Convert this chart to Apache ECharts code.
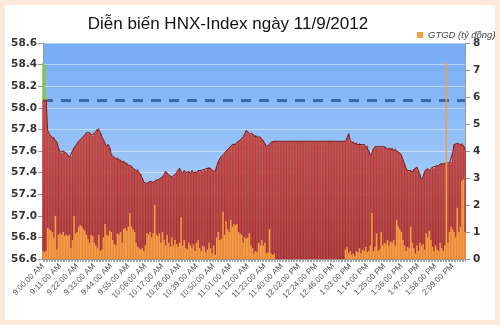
<!DOCTYPE html>
<html><head><meta charset="utf-8">
<script src="https://cdn.jsdelivr.net/npm/echarts@6/dist/echarts.min.js"></script>
<style>html,body{margin:0;padding:0;background:#fff}#c{width:500px;height:325px}</style>
</head><body><div id="c"></div>
<script>
var titleText = 'Diễn biến HNX-Index ngày 11/9/2012';
var volumeName = 'GTGD (tỷ đồng)';
var refLevel = 58.07;
var tickLabels = ['9:00:00 AM','9:11:00 AM','9:22:00 AM','9:33:00 AM','9:44:00 AM','9:55:00 AM','10:06:00 AM','10:17:00 AM','10:28:00 AM','10:39:00 AM','10:50:00 AM','11:01:00 AM','11:12:00 AM','11:23:00 AM','11:40:00 AM','12:02:00 PM','12:24:00 PM','12:46:00 PM','1:03:00 PM','1:14:00 PM','1:25:00 PM','1:36:00 PM','1:47:00 PM','1:58:00 PM','2:09:00 PM'];
var indexValues = [
58.42,58.40,58.10,57.79,57.76,57.74,57.72,57.73,57.70,57.68,57.63,
57.59,57.58,57.60,57.59,57.58,57.56,57.54,57.55,57.60,57.63,57.65,
57.67,57.69,57.70,57.72,57.73,57.75,57.77,57.76,57.77,57.75,57.74,
57.76,57.78,57.80,57.81,57.77,57.73,57.70,57.67,57.64,57.66,57.63,
57.57,57.55,57.54,57.53,57.54,57.52,57.52,57.50,57.51,57.49,57.49,
57.47,57.46,57.46,57.44,57.43,57.42,57.43,57.40,57.39,57.35,57.31,
57.30,57.30,57.31,57.32,57.31,57.31,57.32,57.33,57.33,57.34,57.35,
57.36,57.38,57.41,57.40,57.38,57.37,57.36,57.36,57.38,57.40,57.42,
57.44,57.41,57.39,57.42,57.40,57.40,57.41,57.39,57.42,57.40,57.41,
57.40,57.42,57.41,57.42,57.41,57.43,57.42,57.44,57.45,57.44,57.42,
57.41,57.41,57.46,57.50,57.53,57.55,57.56,57.58,57.60,57.61,57.63,
57.64,57.66,57.67,57.66,57.68,57.69,57.70,57.71,57.73,57.76,57.79,
57.78,57.76,57.75,57.76,57.74,57.75,57.73,57.72,57.73,57.71,57.70,
57.67,57.64,57.65,57.66,57.68,57.69,57.69,57.69,57.69,57.69,57.69,
57.69,57.69,57.69,57.69,57.69,57.69,57.69,57.69,57.69,57.69,57.69,
57.69,57.69,57.69,57.69,57.69,57.69,57.69,57.69,57.69,57.69,57.69,
57.69,57.69,57.69,57.69,57.69,57.69,57.69,57.69,57.69,57.69,57.69,
57.69,57.69,57.69,57.69,57.69,57.69,57.69,57.69,57.69,57.72,57.76,
57.70,57.68,57.69,57.67,57.68,57.66,57.67,57.66,57.65,57.66,57.64,
57.65,57.60,57.56,57.58,57.62,57.64,57.63,57.64,57.63,57.64,57.63,
57.64,57.63,57.62,57.63,57.62,57.63,57.61,57.62,57.60,57.59,57.58,
57.56,57.52,57.48,57.44,57.42,57.41,57.42,57.40,57.43,57.44,57.45,
57.42,57.38,57.33,57.36,57.41,57.43,57.44,57.42,57.43,57.45,57.44,
57.46,57.47,57.46,57.48,57.49,57.48,57.49,57.49,57.48,57.49,57.50,
57.58,57.66,57.66,57.67,57.67,57.66,57.67,57.65,57.61
];
var volumeValues = [
0.3,0.25,0.3,1.15,1.1,1.05,1.0,0.8,1.6,0.35,0.9,
0.95,0.9,1.0,0.85,0.9,0.85,0.9,0.4,0.7,1.6,0.95,
1.0,1.2,1.25,1.2,1.1,1.05,0.9,0.75,0.6,0.9,0.85,
0.6,0.5,0.4,0.9,0.3,0.35,0.8,1.3,0.9,0.85,1.05,
1.0,0.7,0.55,0.5,0.95,0.9,1.0,0.6,1.1,1.15,1.05,
1.2,1.7,1.2,1.1,1.0,0.6,0.45,0.4,0.35,0.4,0.3,
0.5,0.95,0.9,1.0,0.8,0.95,2.0,0.9,0.85,0.95,0.6,
1.0,0.7,0.5,0.9,0.6,0.45,0.8,0.5,0.7,0.55,0.45,
0.6,1.55,0.5,0.7,0.4,0.35,0.6,0.5,0.4,0.55,0.3,
0.6,0.7,0.4,0.3,0.5,0.45,0.25,0.35,0.6,0.4,0.2,
0.5,0.15,0.8,1.0,0.7,0.75,1.75,0.9,1.4,1.1,1.0,
1.45,1.2,1.3,1.25,1.3,1.0,0.95,0.9,0.6,0.8,0.75,
0.8,0.95,0.5,0.4,0.2,0.3,0.25,0.6,0.5,0.7,0.5,
0.6,0.2,0.25,1.1,0.2,0.15,0.2,0,0,0,0,
0,0,0,0,0,0,0,0,0,0,0,
0,0,0,0,0,0,0,0,0,0,0,
0,0,0,0,0,0,0,0,0,0,0,
0,0,0,0,0,0,0,0,0.35,0.45,0.2,
0.3,0.15,0.2,0.1,0.3,0.25,0.4,0.2,0.35,0.3,0.45,
0.25,0.3,0.5,1.7,0.3,0.45,0.95,0.3,0.35,1.0,0.5,
0.6,0.55,0.7,0.5,0.65,0.6,0.7,0.5,1.45,1.2,1.1,
1.0,0.7,0.5,0.3,0.45,0.4,1.2,0.6,0.4,0.2,0.5,
0.3,0.6,0.5,0.55,0.35,0.95,0.8,1.05,0.7,0.45,0.3,
0.5,0.35,0.3,0.6,0.4,0.3,0.5,7.3,0.6,1.0,1.2,
1.1,1.0,0.8,1.9,1.0,1.2,2.9,2.95,1.0
];

var n = indexValues.length;
var categories = [];
for (var i = 0; i < n; i++) categories.push('t' + i);
var redData = indexValues.map(function (v) { return Math.min(v, refLevel); });
var greenData = indexValues.map(function (v) { return v > refLevel ? +(v - refLevel).toFixed(2) : 0; });

var redFill = new echarts.graphic.LinearGradient(0, 43, 0, 259, [
  {offset: 0, color: '#d5483f'}, {offset: 0.45, color: '#c43b33'}, {offset: 1, color: '#a82420'}
], true);

var chart = echarts.init(document.getElementById('c'), null, {renderer: 'canvas'});
chart.setOption({
  animation: false,
  backgroundColor: '#ffffff',
  title: {
    text: titleText, left: 223, top: 11, textAlign: 'center',
    textStyle: {fontFamily: 'Liberation Sans', fontSize: 17, fontWeight: 'normal', color: '#111'}
  },
  legend: {
    data: [volumeName], left: 412, top: 25, itemWidth: 6, itemHeight: 6, itemGap: 3,
    icon: 'rect',
    textStyle: {fontFamily: 'Liberation Sans', fontStyle: 'italic', fontSize: 9.5, color: '#444'}
  },
  graphic: [{
    type: 'rect', z: -10, zlevel: 0, silent: true,
    shape: {x: 43, y: 43, width: 422, height: 216},
    style: {fill: new echarts.graphic.LinearGradient(0, 0, 0, 1, [
      {offset: 0, color: '#76abf6'}, {offset: 1, color: '#b9dafa'}
    ])}
  }, {
    type: 'rect', z: 100, zlevel: 4, silent: true,
    shape: {x: 2.5, y: 2.5, width: 495, height: 320},
    style: {fill: 'none', stroke: '#fce9db', lineWidth: 5}
  }],
  grid: {
    left: 43, right: 35, top: 43, bottom: 66
  },
  xAxis: {
    type: 'category', data: categories, boundaryGap: false,
    axisLine: {lineStyle: {color: '#999'}},
    axisTick: {show: true, interval: 0, length: 3, lineStyle: {color: '#aaa'}},
    axisLabel: {
      interval: 10, rotate: 45, fontSize: 8, color: '#555', margin: 6,
      fontFamily: 'Liberation Sans',
      formatter: function (v, idx) { return tickLabels[idx / 11] || ''; }
    },
    splitLine: {show: false}
  },
  yAxis: [{
    type: 'value', min: 56.6, max: 58.6, interval: 0.2,
    axisLine: {show: true, lineStyle: {color: '#999'}},
    axisTick: {show: true, length: 5, lineStyle: {color: '#999'}},
    axisLabel: {
      formatter: function (v) { return v.toFixed(1); },
      fontFamily: 'DejaVu Sans', fontWeight: 'bold', fontSize: 10.5, color: '#333', margin: 6
    },
    splitLine: {show: true, lineStyle: {color: 'rgba(255,255,255,0.45)', width: 1}}
  }, {
    type: 'value', min: 0, max: 8, interval: 1,
    axisLine: {show: true, lineStyle: {color: '#999'}},
    axisTick: {show: true, length: 5, lineStyle: {color: '#999'}},
    axisLabel: {fontFamily: 'DejaVu Sans', fontWeight: 'bold', fontSize: 10.5, color: '#333', margin: 8},
    splitLine: {show: false}
  }],
  series: [{
    name: 'HNX-Index', type: 'bar', data: redData, yAxisIndex: 0, zlevel: 1,
    stack: 'idx', barCategoryGap: 0, barGap: '-100%',
    itemStyle: {color: redFill, borderColor: redFill, borderWidth: 0.6}
  }, {
    name: 'above', type: 'bar', data: greenData, yAxisIndex: 0, zlevel: 1,
    stack: 'idx', barCategoryGap: 0, barGap: '-100%',
    itemStyle: {color: '#8cc63e'}
  }, {
    name: 'outline', type: 'line', data: redData, yAxisIndex: 0, zlevel: 1,
    symbol: 'none', lineStyle: {color: '#7a1a18', width: 1}
  }, {
    name: volumeName, type: 'bar', data: volumeValues, yAxisIndex: 1,
    barCategoryGap: 0, barGap: '-100%', zlevel: 2,
    itemStyle: {color: '#f59d40'}
  }, {
    name: 'ref', type: 'line', data: [], yAxisIndex: 0, zlevel: 3,
    markLine: {
      silent: true, symbol: 'none', label: {show: false},
      lineStyle: {color: '#3b6ba6', width: 3, type: [10, 8]},
      data: [{yAxis: refLevel}]
    }
  }]
});
</script>
</body></html>
